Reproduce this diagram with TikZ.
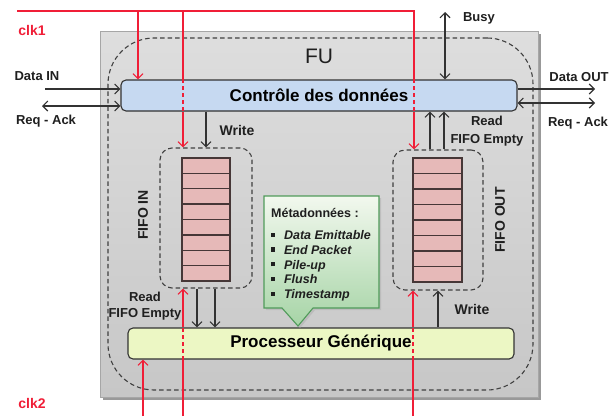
\documentclass[tikz,border=0pt]{standalone}
\usepackage{fontspec}
\setmainfont{Liberation Sans}
\usetikzlibrary{arrows.meta}
\definecolor{clkred}{RGB}{240,30,55}
\definecolor{ctrlblue}{RGB}{198,217,241}
\definecolor{procyel}{RGB}{236,247,196}
\definecolor{fifopink}{RGB}{230,185,184}
\definecolor{fifoedge}{RGB}{70,55,55}
\definecolor{metagreenT}{RGB}{242,248,238}
\definecolor{metagreenB}{RGB}{166,212,166}
\definecolor{metaedge}{RGB}{80,155,90}
\definecolor{linegray}{RGB}{50,50,50}
\tikzset{
 lbl/.style={font=\bfseries\fontsize{13}{15}\selectfont, text=black!88, inner sep=0},
 clklbl/.style={font=\bfseries\fontsize{14}{16}\selectfont, text=clkred, inner sep=0},
 rotlbl/.style={font=\bfseries\fontsize{14}{16}\selectfont, text=black!88, inner sep=0, rotate=90},
 tipb/.tip={Straight Barb[length=5pt,width=10pt,line width=1.1pt]},
 arr/.style={draw=linegray, line width=1.2pt, -tipb},
 darr/.style={draw=linegray, line width=1.2pt, tipb-tipb},
 clkl/.style={draw=clkred, line width=1.2pt},
 clkd/.style={draw=clkred, line width=1.2pt, dash pattern=on 4pt off 3pt},
 clka/.style={clkl, -tipb},
 bigbox/.style={draw=black!80, line width=1.1pt, rounded corners=5pt, font=\bfseries\fontsize{17}{20}\selectfont, inner sep=0},
 dbox/.style={draw=black!75, line width=1.1pt, dash pattern=on 4.5pt off 3pt, rounded corners=12pt, inner sep=0},
 cell/.style={draw=fifoedge, fill=fifopink, line width=1.3pt, inner sep=0},
 metatxt/.style={font=\bfseries\itshape\fontsize{12.5}{15}\selectfont, text=black!88, inner sep=0, anchor=base west},
}
\newcommand{\mybul}{\rule[0.22em]{0.33em}{0.33em}}
\begin{document}
\begin{tikzpicture}[x=1pt,y=-1pt]
\useasboundingbox (0,0) rectangle (613,416);
% FU gray box
\fill[black!40] (103,34) rectangle (541,400);
\node[draw=black!35, line width=0.8pt, top color=black!13, bottom color=black!22, minimum width=438pt, minimum height=366pt, inner sep=0] (fu) at (319.5,214) {};
\node[dbox, rounded corners=46pt, minimum width=425pt, minimum height=352pt] (fud) at (320.5,214) {};
\node[font=\fontsize{21}{24}\selectfont, text=black!88, inner sep=0] (fulbl) at (319,56) {FU};
% main boxes
\node[bigbox, fill=ctrlblue, minimum width=396pt, minimum height=31pt] (ctrl) at (319,95.5) {Contrôle des données};
\node[bigbox, fill=procyel, minimum width=386pt, minimum height=31pt] (proc) at (321,343.5) {Processeur Générique};
% FIFO boxes
\node[dbox, minimum width=92pt, minimum height=140pt] (fifoinbox) at (206,218) {};
\node[dbox, minimum width=90pt, minimum height=140pt] (fifooutbox) at (438,220) {};
\foreach \i in {0,...,7}{
  \node[cell, minimum width=48pt, minimum height=15.4pt] (fi\i) at (206,{158+7.69+15.375*\i}) {};
  \node[cell, minimum width=49pt, minimum height=15.5pt] (fo\i) at (437.5,{158+7.75+15.5*\i}) {};
}
\node[rotlbl] (fifoinlbl) at (143,215) {FIFO IN};
\node[rotlbl] (fifooutlbl) at (500,220) {FIFO OUT};
% callout
\fill[black!30, opacity=0.6] (266,198) -- (381,198) -- (381,310) -- (315,310) -- (300,328) -- (284,310) -- (266,310) -- cycle;
\path[draw=metaedge, line width=1.1pt, top color=metagreenT, bottom color=metagreenB] (264,196) -- (379,196) -- (379,308) -- (313,308) -- (298,326) -- (282,308) -- (264,308) -- cycle;
\node[font=\bfseries\fontsize{12.5}{15}\selectfont, text=black!88, inner sep=0, anchor=base west] (m0) at (271,217.5) {Métadonnées :};
\node[metatxt] (m1) at (271,239.5) {\mybul\hspace{0.7em}Data Emittable};
\node[metatxt] (m2) at (271,254.3) {\mybul\hspace{0.7em}End Packet};
\node[metatxt] (m3) at (271,269.1) {\mybul\hspace{0.7em}Pile-up};
\node[metatxt] (m4) at (271,283.9) {\mybul\hspace{0.7em}Flush};
\node[metatxt] (m5) at (271,298.7) {\mybul\hspace{0.7em}Timestamp};
% labels
\node[clklbl] (clk1) at (32,30) {clk1};
\node[clklbl] (clk2) at (32,403) {clk2};
\node[lbl] (dinl) at (37,76) {Data IN};
\node[lbl] (ral) at (46,121) {Req - Ack};
\node[lbl] (doutl) at (579,77) {Data OUT};
\node[lbl] (rar) at (578,123) {Req - Ack};
\node[lbl] (busyl) at (479,18) {Busy};
\node[lbl, font=\bfseries\fontsize{14}{16}\selectfont] (writel) at (237,130) {Write};
\node[lbl] (readr) at (487,121) {Read};
\node[lbl] (emptyr) at (487,140) {FIFO Empty};
\node[lbl] (readl) at (145,297) {Read};
\node[lbl] (emptyl) at (145,314) {FIFO Empty};
\node[lbl, font=\bfseries\fontsize{14}{16}\selectfont] (writer) at (472,309) {Write};
% black connectors
\coordinate (dinS) at (45,89);
\draw[arr] (dinS) -- (dinS -| ctrl.west);
\coordinate (raL) at (42,106);
\draw[darr] (raL) -- (raL -| ctrl.west);
\coordinate (doutE) at (595,89);
\draw[arr] (doutE -| ctrl.east) -- (doutE);
\coordinate (raR) at (595,103);
\draw[darr] (raR -| ctrl.east) -- (raR);
\coordinate (busyT) at (445,12);
\draw[darr] (busyT) -- (busyT |- ctrl.north);
\coordinate (wL) at (206,0);
\draw[arr] (wL |- ctrl.south) -- (wL |- fifoinbox.north);
\coordinate (rR1) at (430,0);
\coordinate (rR2) at (444,0);
\draw[arr] (rR1 |- fifooutbox.north) -- (rR1 |- ctrl.south);
\draw[arr] (rR2 |- fifooutbox.north) -- (rR2 |- ctrl.south);
\coordinate (rL1) at (197,0);
\coordinate (rL2) at (215,0);
\draw[arr] (rL1 |- fifoinbox.south) -- (rL1 |- proc.north);
\draw[arr] (rL2 |- fifoinbox.south) -- (rL2 |- proc.north);
\coordinate (wR) at (438,0);
\draw[arr] (wR |- proc.north) -- (wR |- fifooutbox.south);
% clk1
\coordinate (c1S) at (17,11);
\coordinate (c1E) at (414,11);
\coordinate (c1a) at (138,11);
\coordinate (c1b) at (183,11);
\draw[clkl] (c1S) -- (c1E) -- (c1E |- ctrl.north);
\draw[clkd] (c1E |- ctrl.north) -- (c1E |- ctrl.south);
\draw[clka] (c1E |- ctrl.south) -- (c1E |- fifooutbox.north);
\draw[clka] (c1a) -- (c1a |- ctrl.north);
\draw[clkl] (c1b) -- (c1b |- ctrl.north);
\draw[clkd] (c1b |- ctrl.north) -- (c1b |- ctrl.south);
\draw[clka] (c1b |- ctrl.south) -- (c1b |- fifoinbox.north);
% clk2
\coordinate (c2a) at (143,416);
\coordinate (c2b) at (183,416);
\coordinate (c2c) at (413,416);
\draw[clka] (c2a) -- (c2a |- proc.south);
\draw[clkl] (c2b) -- (c2b |- proc.south);
\draw[clkd] (c2b |- proc.south) -- (c2b |- proc.north);
\draw[clka] (c2b |- proc.north) -- (c2b |- fifoinbox.south);
\draw[clkl] (c2c) -- (c2c |- proc.south);
\draw[clkd] (c2c |- proc.south) -- (c2c |- proc.north);
\draw[clka] (c2c |- proc.north) -- (c2c |- fifooutbox.south);
\end{tikzpicture}
\end{document}
